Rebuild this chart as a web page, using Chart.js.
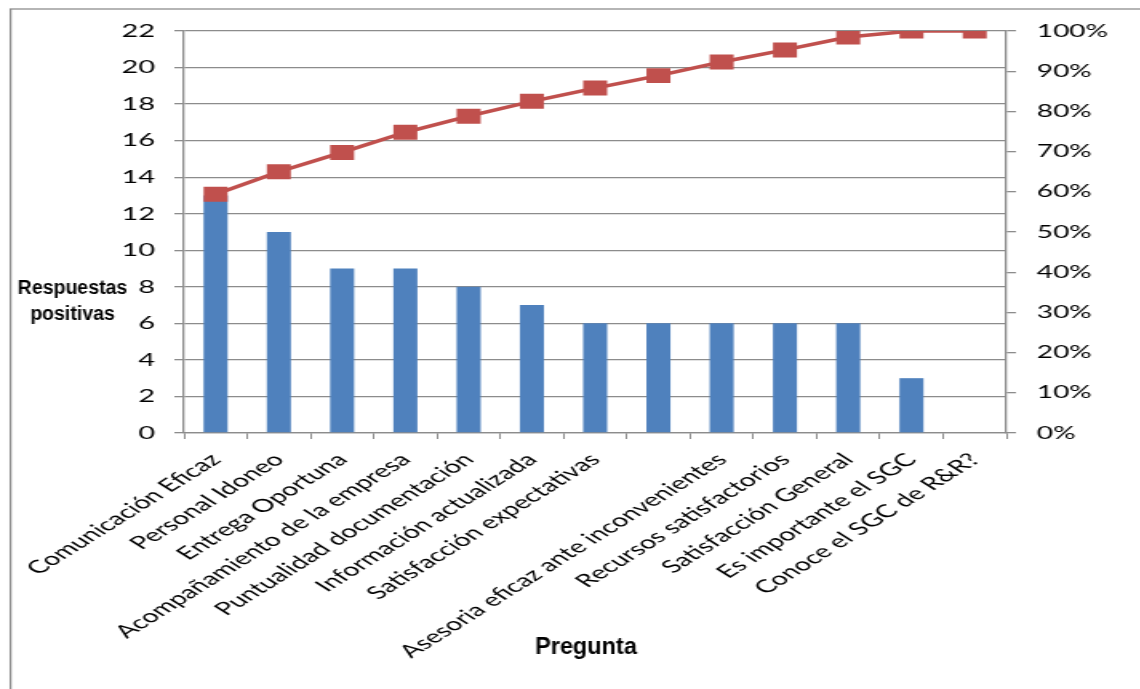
<!DOCTYPE html>
<html>
<head>
<meta charset="utf-8">
<script src="https://cdn.jsdelivr.net/npm/chart.js@4.4.1/dist/chart.umd.min.js"></script>
<style>
  html, body { margin: 0; padding: 0; background: #fff; overflow: hidden; }
  #wrap { position: absolute; left: 0; top: 0; width: 713px; height: 689px; transform: scaleX(1.6); transform-origin: 0 0; }
</style>
</head>
<body>
<div id="wrap"><canvas id="c" width="713" height="689"></canvas></div>
<script>
// ---- data ----
const categories = [
  "Comunicación Eficaz",
  "Personal Idoneo",
  "Entrega Oportuna",
  "Acompañamiento de la empresa",
  "Puntualidad documentación",
  "Información actualizada",
  "Satisfacción expectativas",
  "",
  "Asesoria eficaz ante inconvenientes",
  "Recursos satisfactorios",
  "Satisfacción General",
  "Es importante el SGC",
  "Conoce el SGC de R&R?"
];
const respuestasPositivas = [13, 11, 9, 9, 8, 7, 6, 6, 6, 6, 6, 3, 0];
const porcentajeAcumulado = [0.594, 0.650, 0.698, 0.748, 0.788, 0.825, 0.858, 0.889, 0.923, 0.953, 0.985, 1.0, 1.0];
const leftTitleLines = ["Respuestas", "positivas"];
const bottomTitle = "Pregunta";

// ---- styling ----
const S = 1.6; // horizontal stretch of the picture
const GRID = '#8c8c8c';
const BAR = '#4F81BD';
const LINE = '#C0504D';

const overlayText = {
  id: 'overlayText',
  beforeDraw(chart) {
    const ctx = chart.ctx;
    ctx.save();
    ctx.strokeStyle = '#8a8a8a';
    ctx.lineWidth = 1.25;
    ctx.strokeRect(6.6, 9, 900, 900);
    ctx.restore();
  },
  afterDraw(chart) {
    const ctx = chart.ctx;
    ctx.save();
    ctx.fillStyle = '#000';
    ctx.textAlign = 'center';
    ctx.textBaseline = 'alphabetic';
    // left title (horizontal, two lines)
    ctx.save();
    ctx.translate(72.5 / S, 0);
    ctx.scale(1 / S, 1);
    ctx.font = 'bold 19.5px "Liberation Sans", Arial, sans-serif';
    ctx.fillText(leftTitleLines[0], 0, 294);
    ctx.fillText(leftTitleLines[1], 0, 320);
    ctx.restore();
    // bottom title
    ctx.save();
    ctx.translate(586 / S, 0);
    ctx.scale(1 / S, 1);
    ctx.font = 'bold 23.5px "Liberation Sans", Arial, sans-serif';
    ctx.fillText(bottomTitle, 0, 654);
    ctx.restore();
    ctx.restore();
  }
};

new Chart(document.getElementById('c'), {
  type: 'bar',
  data: {
    labels: categories,
    datasets: [
      {
        type: 'line',
        label: '% acumulado',
        data: porcentajeAcumulado,
        yAxisID: 'y1',
        borderColor: LINE,
        backgroundColor: LINE,
        borderWidth: 3.5,
        pointStyle: 'rect',
        pointRadius: 10.6,
        pointBackgroundColor: LINE,
        pointBorderColor: LINE,
        pointBorderWidth: 0,
        tension: 0,
        order: 0
      },
      {
        type: 'bar',
        label: 'Respuestas positivas',
        data: respuestasPositivas,
        yAxisID: 'y',
        backgroundColor: BAR,
        borderWidth: 0,
        categoryPercentage: 1.0,
        barPercentage: 0.38,
        order: 1
      }
    ]
  },
  options: {
    responsive: false,
    animation: false,
    devicePixelRatio: 1,
    layout: { padding: { top: 31, left: 0, right: 0, bottom: 0 } },
    plugins: { legend: { display: false }, tooltip: { enabled: false } },
    scales: {
      x: {
        offset: true,
        grid: { display: true, drawOnChartArea: false, drawTicks: true, tickLength: 6, color: GRID, offset: true },
        border: { display: true, color: GRID, width: 1.3 },
        ticks: {
          autoSkip: false, minRotation: 45, maxRotation: 45,
          color: '#000', padding: 10, labelOffset: 0,
          font: { family: 'Lato', size: 18 }
        },
        afterFit(s) { s.height = 256; }
      },
      y: {
        position: 'left',
        min: 0, max: 22,
        ticks: { stepSize: 2, color: '#000', padding: 12, font: { family: 'Lato', size: 18 } },
        grid: { color: GRID, lineWidth: 1.3, tickLength: 6, drawTicks: true },
        border: { display: true, color: GRID, width: 1.3 },
        afterFit(s) { s.width = 115; }
      },
      y1: {
        position: 'right',
        min: 0, max: 1,
        ticks: {
          stepSize: 0.1, color: '#000', padding: 13,
          font: { family: 'Lato', size: 17.5 },
          callback: v => Math.round(v * 100) + '%'
        },
        grid: { drawOnChartArea: false, color: GRID, lineWidth: 1.3, tickLength: 6 },
        border: { display: true, color: GRID, width: 1.3 },
        afterFit(s) { s.width = 84; }
      }
    }
  },
  plugins: [overlayText]
});
</script>
</body>
</html>
